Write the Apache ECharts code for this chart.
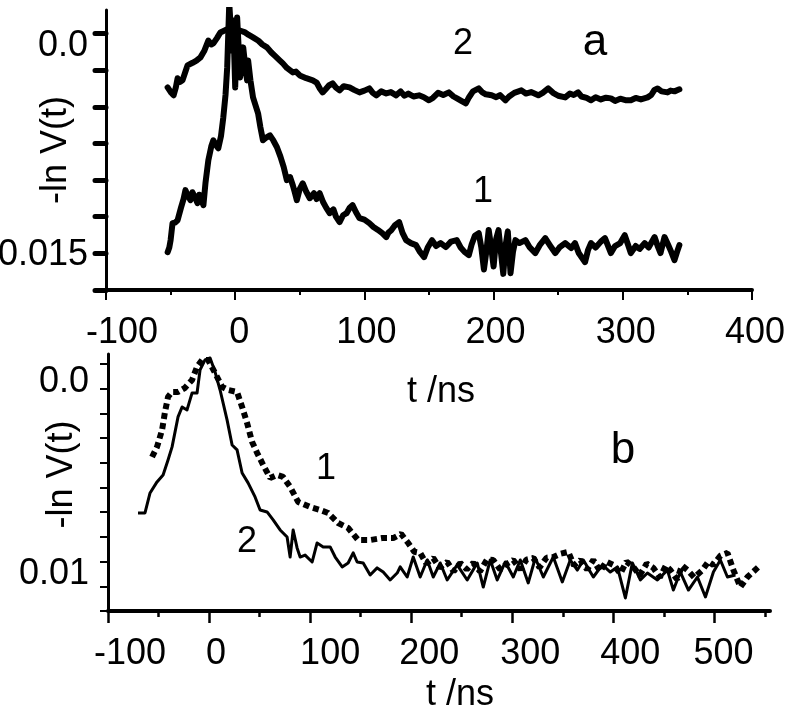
<!DOCTYPE html>
<html>
<head>
<meta charset="utf-8">
<script src="https://cdn.jsdelivr.net/npm/echarts@6.0.0/dist/echarts.min.js"></script>
<style>
  html, body { margin: 0; padding: 0; background: #fff; }
  #chart { width: 800px; height: 725px; }
</style>
</head>
<body>
<div id="chart"></div>
<script>
// y values are -ln V(t) in units of 1e-3, t in ns

// panel a, curve 2 (upper)
const aT2 = [-52.3,-49.5,-47.7,-46,-44.6,-42.5,-40.8,-38.5,-36.9,-33,-30,-26.9,-24,-20.8,-18.5,-16.9,-14,-11.5,-7,-3.8,0,3.5,7.7,10.5,13.8,18,21,24.6,28,31,34,36.9,40,44.6,47,50,55,60,63,65.5,67.7,70,72.5,75.4,78,80.8,84,88.5,92,96.2,100,103.8,106.5,109.2,113,116.9,120.5,124.6,128,131,134,138,142.3,146,150,153,157,161,165.4,169,172,175,178.5,181,184,188.5,191,194,198.5,202,205,209.2,212,216,221.5,225,229,234.6,238,242.3,246,250,255.4,259,262,265.4,268,272,275.4,279,283,287,290.8,294,298,302,306.2,310,314,319.2,322,324.5,326.9,330,334.6,337,340,343.8];
const aV2 = [3.68,4.05,4.22,3.7,3.06,3.3,3.2,2.6,2.18,2.0,1.85,1.63,1.2,0.48,0.75,0.68,0.3,-0.07,-0.25,-0.41,-0.3,-0.2,-0.07,0.1,0.27,0.5,0.75,0.95,1.3,1.55,1.8,2.04,2.35,2.66,2.6,2.86,3.05,3.2,3.35,3.75,4.02,3.8,3.55,3.41,3.7,3.88,3.6,3.68,3.85,4.02,3.9,3.75,4.05,4.22,3.95,4.09,4.0,4.22,3.95,4.25,4.1,4.3,4.22,4.35,4.56,4.4,4.05,4.2,4.02,4.3,4.45,4.6,4.77,4.35,3.95,3.75,4.0,4.15,4.22,4.35,4.2,4.56,4.3,4.05,3.88,4.1,4.0,4.22,4.05,3.75,4.05,4.25,4.36,4.1,4.2,4.02,4.3,4.4,4.56,4.35,4.5,4.38,4.43,4.6,4.45,4.55,4.56,4.4,4.5,4.36,4.2,3.85,3.75,3.95,4.02,3.9,3.95,3.81];

// panel a, curve 1 (lower)
const aT1 = [-52.3,-51,-50,-48.5,-46.5,-44.6,-42,-40,-38.5,-36.5,-34.6,-33.1,-31,-29.2,-27.8,-26.9,-25.5,-24.6,-23,-20.8,-18.5,-16.9,-15,-13.1,-11,-9.2,-7.5,-6.2,-4.6,-3.5,-2.3,-1.5,0,1.5,2.8,3.8,5,6.2,7.5,9.2,10,11.8,13.8,17.7,19.5,21.5,24,26.9,29.5,32.3,35,37.5,40,42.5,44.6,46,47.7,50,52.3,55,57.7,61,63,65.4,68,70.5,73.1,76,78,80.8,83.5,86.2,88.5,90.8,93.5,96.2,100,103.8,107,110.5,113.8,116.9,118.5,120.8,123.5,126.9,129.5,132.3,136,140,143,146.2,149,152.3,155.5,159,163.1,167,171.5,174.5,177.5,180.8,183,185.5,188.5,190.5,192.5,194.5,196.2,198,200,202,203.8,205.5,207.5,209.2,211,213.1,215,216.9,220,224.6,228,232.3,236,240,244,247.7,251,255.4,260,263,266,270.8,273,275.4,279,283,286.2,290.8,294,298,301.5,304,306.2,310,313,316.9,320,324.6,327,329.2,332.3,335,337.5,340,342,343.8];
const aV1 = [14.92,14.6,14.1,12.94,12.9,12.74,11.9,11.3,10.69,11.1,11.37,10.83,11.2,11.58,11.0,10.9,11.5,11.71,10.2,8.65,7.7,7.29,7.6,7.83,7.0,5.72,4.2,2.32,-2.04,-0.5,1.16,-0.89,3.68,-1.09,1.2,3.0,2.2,0.95,2.0,3.2,1.84,3.2,4.36,5.45,6.4,7.29,7.1,6.95,7.3,7.76,8.4,9.1,10.01,9.8,10.35,10.8,11.37,10.6,10.22,10.8,11.24,10.9,11.3,10.9,11.5,11.9,12.26,12.0,12.5,12.87,12.4,12.26,11.9,11.71,12.2,12.6,12.7,12.94,13.2,13.4,13.62,13.89,13.6,13.42,13.1,12.87,13.6,14.1,14.3,14.44,14.9,15.26,14.6,14.1,14.5,14.3,14.57,14.2,14.1,14.6,14.9,15.12,14.4,13.8,13.62,14.6,16.1,14.8,13.4,14.5,15.9,14.0,13.42,14.8,16.4,14.5,13.5,16.35,14.9,14.1,14.3,14.1,14.6,14.98,14.4,13.96,14.5,14.98,14.6,14.3,14.64,14.3,15.0,15.6,14.8,14.3,14.6,14.2,13.96,14.98,14.5,14.3,13.76,14.4,14.98,14.5,14.7,14.3,14.6,13.89,14.5,14.98,13.89,14.4,14.9,15.46,14.9,14.44];

// panel b, curve 1 (dotted)
const bT1 = [-56.4,-51.5,-46.5,-43.6,-40.6,-36.6,-30.7,-23.8,-16.8,-11.9,-6.9,-1.0,5.9,12.9,18.8,27.7,32.7,37.6,42.6,47.5,53.5,60.4,67.3,73.3,80.2,88.1,100,109.9,117.8,127.7,137.6,147.5,159.4,171.3,182.2,190,197,203,208.9,215,221.8,228,235.6,242,248.5,255,261.4,268,275,281.2,288,295,301,308,314,320.8,327,334,340.6,348,355.4,361,367.3,374,380.2,387,393,400,407,413,419.8,426,433,439.6,446,452,456.4,463,468,473.3,480,488.1,494,499,506,512.9,518.8,525.7,532.7,543.6];
const bV1 = [4.71,4.2,3.34,2.43,1.67,1.42,1.42,1.21,0.81,0.15,-0.2,-0.2,0.46,1.16,1.32,1.42,2.18,2.99,3.95,4.5,5.11,5.77,5.62,5.72,6.22,6.98,7.24,7.39,7.54,8.05,8.3,8.91,8.91,8.81,8.81,8.6,9.06,9.5,9.56,10.1,9.82,10.3,10.02,10.5,10.07,10.4,10.07,10.5,9.9,9.92,10.4,10.1,9.92,10.4,9.9,9.82,10.3,9.8,9.77,9.6,9.51,10.2,9.92,10.4,9.92,10.5,10.0,10.17,10.6,10.0,10.27,10.7,10.1,10.32,10.8,10.2,10.43,10.9,10.2,10.43,10.8,10.43,10.0,10.17,9.7,9.56,10.43,11.29,10.78,10.27];

// panel b, curve 2 (solid)
const bT2 = [-70.3,-63.4,-58.4,-51.5,-45.5,-40.6,-36.6,-30.7,-26.7,-21.8,-16.8,-11.9,-8.9,-4.0,1.0,5.9,10.9,17.8,22.8,27.7,32.7,38.6,45.5,50.5,57.4,63.4,70.3,77.2,80.2,83.2,87.1,90.1,95.0,102.0,106.9,112.9,119.8,124.8,131.7,137.6,142.6,146.5,152.5,159.4,166.3,172.3,179.2,186.1,189.1,196.0,202.0,208.9,215.8,221.8,228.7,235.6,245.5,255.4,265.3,271.3,278.2,285.1,293.1,301.0,307.9,315.8,322.8,330.7,340.6,349.5,357.4,364.4,370.3,380.2,389.1,397.0,404.0,411.9,418.8,426.7,433.7,443.6,453.5,459.4,466.3,474.3,483.2,491.1,499.0,505.9,512.9,520.8];
const bV2 = [7.54,7.54,6.53,5.97,5.62,4.86,4.2,2.68,2.18,2.33,1.47,1.47,0.3,-0.2,-0.3,0.4,1.32,2.83,4.1,4.35,5.52,6.02,6.73,7.39,7.49,7.89,8.4,8.76,9.77,8.4,9.31,9.77,9.67,10.02,9.06,9.26,9.26,9.77,10.27,10.07,9.56,10.02,10.07,10.68,10.32,10.53,10.93,10.58,10.27,10.78,9.77,10.78,9.92,10.78,10.07,10.93,10.17,10.93,10.07,11.29,9.92,10.93,10.02,10.78,9.92,11.08,9.82,10.78,9.77,11.03,9.92,10.43,9.92,10.78,10.17,10.53,10.27,11.84,10.07,10.93,10.58,10.93,10.43,11.44,10.53,11.44,10.78,11.79,10.53,9.92,10.78,10.68];

// axis ticks and labels
const aXMajor = [-100, 0, 100, 200, 300, 400];
const aXMinor = [-50, 50, 150, 250, 350];
const aYTicks = [0, 2.5, 5, 7.5, 10, 12.5, 15, 17.5];
const aYLabelVals = [0, 15];
const aYLabelText = ['0.0', '0.015'];

const bXMajor = [-100, 0, 100, 200, 300, 400, 500];
const bXMinor = [-50, 50, 150, 250, 350, 450, 550];
const bYTicks = [0, 1.25, 2.5, 3.75, 5, 6.25, 7.5, 8.75, 10, 11.25, 12.5];
const bYLabelVals = [0, 10];
const bYLabelText = ['0.0', '0.01'];

const FONT = "'Liberation Sans', Arial, Helvetica, sans-serif";
const pairs = (ts, vs) => ts.map((t, i) => [t, vs[i]]);

// label nudges (px) to sit where the original figure put them
const aXShift = [16, 4, 2, 2, 3, 3];
const bXShift = [22, 7, 20, 18, 18, 17, 9];
const aYShift = [13, 2];
const bYShift = [18, 13];

function xLabel(major, shift) {
  const rich = {};
  major.forEach((v, i) => {
    rich['x' + i] = { fontSize: 36, fontFamily: FONT, color: '#000', padding: [0, 0, 0, 2 * shift[i]] };
  });
  return {
    customValues: major,
    margin: 25,
    fontSize: 36, fontFamily: FONT, color: '#000',
    formatter: v => '{x' + major.indexOf(v) + '|' + v + '}',
    rich: rich
  };
}
function yLabel(vals, text, shift, margin) {
  const rich = {};
  vals.forEach((v, i) => {
    rich['y' + i] = { fontSize: 36, fontFamily: FONT, color: '#000', padding: [2 * shift[i], 0, 0, 0] };
  });
  return {
    customValues: vals,
    margin: margin,
    fontSize: 36, fontFamily: FONT, color: '#000',
    formatter: v => '{y' + vals.indexOf(v) + '|' + text[vals.indexOf(v)] + '}',
    rich: rich
  };
}

const chart = echarts.init(document.getElementById('chart'), null, { renderer: 'canvas' });

const option = {
  animation: false,
  backgroundColor: '#fff',
  grid: [
    { left: 106, top: 10, width: 646, height: 280, outerBoundsMode: 'none', containLabel: false },
    { left: 108, top: 354, width: 662, height: 257, outerBoundsMode: 'none', containLabel: false }
  ],
  xAxis: [
    {
      gridIndex: 0, type: 'value', min: -100, max: 400, position: 'bottom',
      axisLine: { show: true, onZero: false, lineStyle: { color: '#000', width: 4 } },
      axisTick: { show: true, customValues: aXMajor, length: 10, lineStyle: { color: '#000', width: 2 } },
      axisLabel: xLabel(aXMajor, aXShift),
      splitLine: { show: false },
      name: 't /ns', nameLocation: 'middle', nameGap: 84, nameMoveOverlap: false,
      nameTextStyle: { fontSize: 36, fontFamily: FONT, color: '#000', padding: [0, 0, 0, 24] }
    },
    {
      gridIndex: 0, type: 'value', min: -100, max: 400, position: 'bottom',
      axisLine: { show: false, onZero: false },
      axisTick: { show: true, customValues: aXMinor, length: 5, lineStyle: { color: '#000', width: 2 } },
      axisLabel: { show: false },
      splitLine: { show: false }
    },
    {
      gridIndex: 1, type: 'value', min: -100, max: 555, position: 'bottom',
      axisLine: { show: true, onZero: false, lineStyle: { color: '#000', width: 4 } },
      axisTick: { show: true, customValues: bXMajor, length: 12, lineStyle: { color: '#000', width: 2.5 } },
      axisLabel: xLabel(bXMajor, bXShift),
      splitLine: { show: false },
      name: 't /ns', nameLocation: 'middle', nameGap: 66, nameMoveOverlap: false,
      nameTextStyle: { fontSize: 36, fontFamily: FONT, color: '#000', padding: [0, 0, 0, 42] }
    },
    {
      gridIndex: 1, type: 'value', min: -100, max: 555, position: 'bottom',
      axisLine: { show: false, onZero: false },
      axisTick: { show: true, customValues: bXMinor, length: 6, lineStyle: { color: '#000', width: 2.5 } },
      axisLabel: { show: false },
      splitLine: { show: false }
    }
  ],
  yAxis: [
    {
      gridIndex: 0, type: 'value', inverse: true, min: -1.6, max: 17.5,
      axisLine: { show: true, onZero: false, lineStyle: { color: '#000', width: 3 } },
      axisTick: { show: true, customValues: aYTicks, length: 11, lineStyle: { color: '#000', width: 5, cap: 'round' } },
      axisLabel: yLabel(aYLabelVals, aYLabelText, aYShift, 18),
      splitLine: { show: false },
      name: '-ln V(t)', nameLocation: 'middle', nameGap: 32, nameRotate: 90, nameMoveOverlap: false,
      nameTextStyle: { fontSize: 36, fontFamily: FONT, color: '#000' }
    },
    {
      gridIndex: 1, type: 'value', inverse: true, min: -0.5, max: 12.5,
      axisLine: { show: true, onZero: false, lineStyle: { color: '#000', width: 3 } },
      axisTick: { show: true, customValues: bYTicks, length: 8, lineStyle: { color: '#000', width: 2 } },
      axisLabel: yLabel(bYLabelVals, bYLabelText, bYShift, 19),
      splitLine: { show: false },
      name: '-ln V(t)', nameLocation: 'middle', nameGap: 28, nameRotate: 90, nameMoveOverlap: false,
      nameTextStyle: { fontSize: 36, fontFamily: FONT, color: '#000', padding: [0, 0, 0, 16] }
    }
  ],
  series: [
    {
      name: 'a2', type: 'line', xAxisIndex: 0, yAxisIndex: 0, data: pairs(aT2, aV2),
      showSymbol: false, symbol: 'none',
      lineStyle: { color: '#000', width: 6, cap: 'round', join: 'round' }
    },
    {
      name: 'a1', type: 'line', xAxisIndex: 0, yAxisIndex: 0, data: pairs(aT1, aV1),
      showSymbol: false, symbol: 'none',
      lineStyle: { color: '#000', width: 6, cap: 'round', join: 'round' }
    },
    {
      name: 'b1', type: 'line', xAxisIndex: 2, yAxisIndex: 1, data: pairs(bT1, bV1),
      showSymbol: false, symbol: 'none',
      lineStyle: { color: '#000', width: 6, type: [6, 4], cap: 'butt' }
    },
    {
      name: 'b2', type: 'line', xAxisIndex: 2, yAxisIndex: 1, data: pairs(bT2, bV2),
      showSymbol: false, symbol: 'none',
      lineStyle: { color: '#000', width: 3, join: 'round' }
    }
  ],
  graphic: [
    { type: 'text', x: 463, y: 44, style: { text: '2', font: '36px ' + FONT, fill: '#000', textAlign: 'center', textVerticalAlign: 'middle', align: 'center', verticalAlign: 'middle' } },
    { type: 'text', x: 595, y: 43, style: { text: 'a', font: '44px ' + FONT, fill: '#000', textAlign: 'center', textVerticalAlign: 'middle', align: 'center', verticalAlign: 'middle' } },
    { type: 'text', x: 483, y: 192, style: { text: '1', font: '36px ' + FONT, fill: '#000', textAlign: 'center', textVerticalAlign: 'middle', align: 'center', verticalAlign: 'middle' } },
    { type: 'text', x: 623, y: 451, style: { text: 'b', font: '44px ' + FONT, fill: '#000', textAlign: 'center', textVerticalAlign: 'middle', align: 'center', verticalAlign: 'middle' } },
    { type: 'text', x: 326, y: 469, style: { text: '1', font: '36px ' + FONT, fill: '#000', textAlign: 'center', textVerticalAlign: 'middle', align: 'center', verticalAlign: 'middle' } },
    { type: 'text', x: 247, y: 542, style: { text: '2', font: '36px ' + FONT, fill: '#000', textAlign: 'center', textVerticalAlign: 'middle', align: 'center', verticalAlign: 'middle' } }
  ]
};

chart.setOption(option);
</script>
</body>
</html>
